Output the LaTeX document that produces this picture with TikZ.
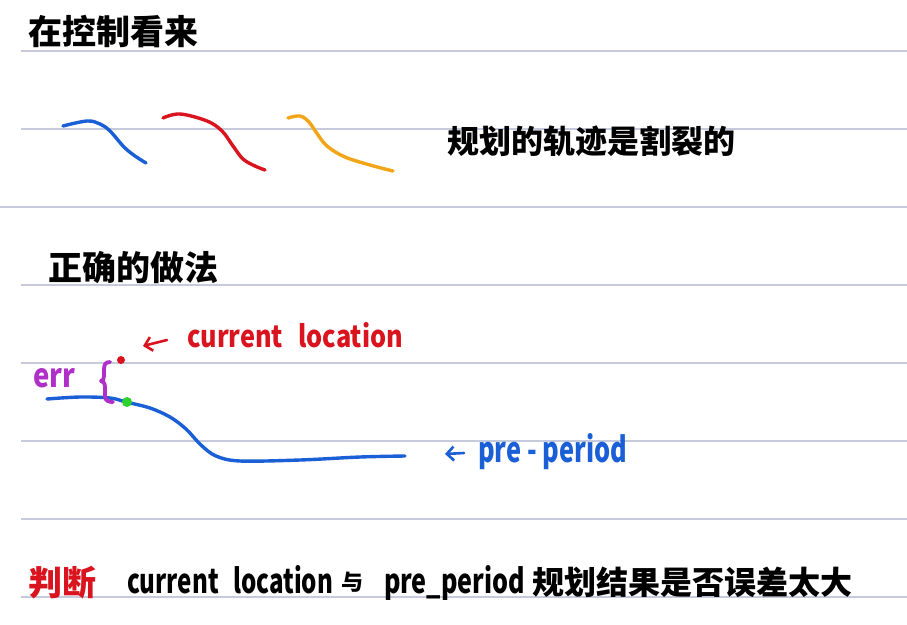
\documentclass[tikz,border=0pt]{standalone}
\usepackage{fontspec}
\setmainfont{Noto Sans}
\newfontfamily\cjk{Noto Sans CJK SC}
\usetikzlibrary{arrows.meta}
\definecolor{ruleC}{HTML}{C6CADD}
\definecolor{penBlue}{HTML}{1A5FD6}
\definecolor{penRed}{HTML}{D9141E}
\definecolor{penOrange}{HTML}{F2A516}
\definecolor{penPurple}{HTML}{B02FC8}
\definecolor{penGreen}{HTML}{2ED12E}
\tikzset{
  rule/.style={draw=ruleC, line width=1.4pt},
  pen/.style={line width=3.4pt, line cap=round, line join=round},
  txt/.style={inner sep=0pt, outer sep=0pt, font=\cjk\bfseries},
  cjktxt/.style={txt, font=\cjk\bfseries},
  penarrow/.style={line width=2.6pt, line cap=round, -{Straight Barb[length=7pt,width=14pt]}}
}
\begin{document}
\begin{tikzpicture}[x=1pt,y=-1pt]
\useasboundingbox[fill=white] (0,0) rectangle (907,624);
% ruled lines
\foreach \yy in {51,129,285,363,441,519,597} \draw[rule] (21,\yy) -- (907,\yy);
\draw[rule] (0,207) -- (907,207);

% title
\node[cjktxt, font=\cjk\bfseries\fontsize{34}{34}\selectfont] (title) at (113,32) {在控制看来};

% three broken trajectories
\draw[pen, penBlue] plot[smooth, tension=0.6] coordinates {(63,126) (87,121) (100,124) (110,131) (124,147) (135,156) (146,163)};
\draw[pen, penRed] plot[smooth, tension=0.6] coordinates {(163,118) (180,114) (207,121) (222,131) (233,146) (243,159) (255,166) (265,170)};
\draw[pen, penOrange] plot[smooth, tension=0.6] coordinates {(288,118) (300,116) (309,122) (316,132) (327,146) (345,157) (370,165) (393,171)};
\node[cjktxt, font=\cjk\bfseries\fontsize{32}{32}\selectfont] (broken) at (591,141) {规划的轨迹是割裂的};

% correct approach
\node[cjktxt, font=\cjk\bfseries\fontsize{34}{34}\selectfont] (correct) at (133,268) {正确的做法};

% pre-period trajectory
\draw[pen, penBlue] plot[smooth, tension=0.55] coordinates {(47,399) (80,397) (110,398) (126,402) (150,408) (170,417) (186,429) (201,445) (216,456) (240,461) (300,460) (360,457) (405,456)};

% error brace
\draw[penPurple, line width=3.8pt, line cap=round, line join=round]
  (110,362) .. controls (105,362) and (104,365) .. (104,370)
  -- (104,376) .. controls (104,379) and (103,381) .. (101,381)
  .. controls (103,381) and (105,383) .. (105,387)
  -- (105,396) .. controls (105,401) and (109,402) .. (113,402);
\node[txt, anchor=base west, text=penPurple] (err) at (33,387) {\resizebox{42pt}{19pt}{err}};

% points
\node[circle, fill=penRed, inner sep=0pt, minimum size=8pt] (cur) at (121,360) {};
\node[circle, fill=penGreen, inner sep=0pt, minimum size=10pt] (ref) at (127,402) {};

% current location label
\coordinate (ca1) at (167,340);
\coordinate (ca2) at (143,346);
\draw[penarrow, penRed] (ca1) -- (ca2);
\node[txt, anchor=base west, text=penRed] (curlab) at (187,347) {\resizebox{216pt}{25pt}{current\hspace{0.6em}location}};

% pre-period label
\coordinate (pa1) at (464,453);
\coordinate (pa2) at (445,454);
\draw[penarrow, penBlue] (pa1) -- (pa2);
\node[txt, anchor=base west, text=penBlue] (prelab) at (478,462) {\resizebox{149pt}{29pt}{pre - period}};

% bottom sentence
\node[cjktxt, text=penRed, font=\cjk\bfseries\fontsize{34}{34}\selectfont] (judge) at (62,583) {判断};
\node[txt, anchor=base west] (bcur) at (127,593) {\resizebox{206pt}{28pt}{current\hspace{0.6em}location}};
\node[cjktxt, font=\cjk\bfseries\fontsize{22}{22}\selectfont] (yu) at (352,582) {与};
\node[txt, anchor=base west] (bpre) at (384,593) {\resizebox{141pt}{28pt}{pre\_period}};
\node[cjktxt, font=\cjk\bfseries\fontsize{32}{32}\selectfont] (result) at (692,582) {规划结果是否误差太大};
\end{tikzpicture}
\end{document}
